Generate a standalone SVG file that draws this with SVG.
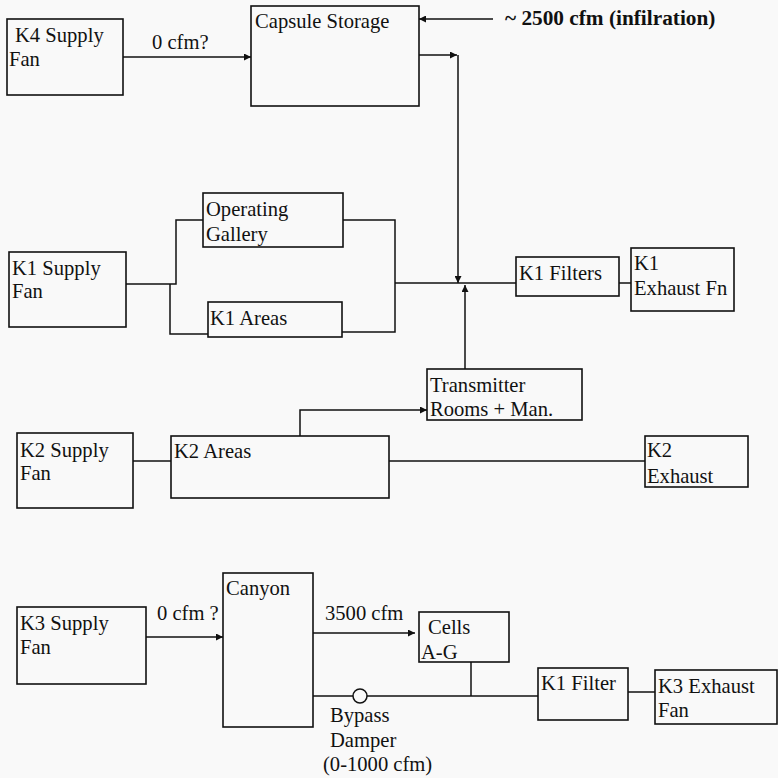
<svg xmlns="http://www.w3.org/2000/svg" width="778" height="778" viewBox="0 0 778 778">
<style>
.box{fill:none;stroke:#111;stroke-width:1.6}
.ln{fill:none;stroke:#111;stroke-width:1.5}
.t{font-family:"Liberation Serif","Times New Roman",serif;font-size:20.6px;fill:#111}
.b{font-weight:bold;font-size:21.3px}
</style>
<defs>
<marker id="ah" viewBox="0 0 10 10" refX="10" refY="5" markerWidth="8" markerHeight="7" markerUnits="userSpaceOnUse" orient="auto">
<path d="M0,0 L10,5 L0,10 z" fill="#111"/>
</marker>
</defs>
<rect width="778" height="778" fill="#f9f9f9"/>

<g id="k4fan"><rect class="box" x="7" y="19" width="116" height="76"/><text class="t" x="15" y="42">K4 Supply</text><text class="t" x="9" y="66">Fan</text></g>
<g id="capsule"><rect class="box" x="251" y="6" width="168" height="100"/><text class="t" x="255" y="28">Capsule Storage</text></g>
<g id="infil"><text class="t b" x="505" y="25">~ 2500 cfm (infilration)</text></g>
<g id="k1fan"><rect class="box" x="9" y="252" width="117" height="75"/><text class="t" x="12" y="275">K1 Supply</text><text class="t" x="12" y="298">Fan</text></g>
<g id="opgal"><rect class="box" x="203" y="193" width="140" height="54"/><text class="t" x="206" y="216">Operating</text><text class="t" x="206" y="241">Gallery</text></g>
<g id="k1areas"><rect class="box" x="208" y="302" width="134" height="35"/><text class="t" x="210" y="325">K1 Areas</text></g>
<g id="k1filters"><rect class="box" x="516" y="257" width="103" height="39"/><text class="t" x="519" y="280">K1 Filters</text></g>
<g id="k1exh"><rect class="box" x="631" y="248" width="103" height="63"/><text class="t" x="634" y="270">K1</text><text class="t" x="634" y="295">Exhaust Fn</text></g>
<g id="transmitter"><rect class="box" x="427" y="369" width="155" height="51"/><text class="t" x="430" y="392">Transmitter</text><text class="t" x="430" y="416">Rooms + Man.</text></g>
<g id="k2fan"><rect class="box" x="17" y="433" width="116" height="75"/><text class="t" x="20" y="457">K2 Supply</text><text class="t" x="20" y="480">Fan</text></g>
<g id="k2areas"><rect class="box" x="171" y="436" width="218" height="62"/><text class="t" x="174" y="458">K2 Areas</text></g>
<g id="k2exh"><rect class="box" x="645" y="436" width="103" height="51"/><text class="t" x="647" y="457">K2</text><text class="t" x="647" y="483">Exhaust</text></g>
<g id="k3fan"><rect class="box" x="17" y="607" width="129" height="77"/><text class="t" x="20" y="630">K3 Supply</text><text class="t" x="20" y="654">Fan</text></g>
<g id="canyon"><rect class="box" x="223" y="573" width="90" height="154"/><text class="t" x="226" y="595">Canyon</text></g>
<g id="cells"><rect class="box" x="419" y="612" width="90" height="50"/><text class="t" x="428" y="634">Cells</text><text class="t" x="421" y="659">A-G</text></g>
<g id="k1filter"><rect class="box" x="538" y="668" width="90" height="52"/><text class="t" x="541" y="690">K1 Filter</text></g>
<g id="k3exh"><rect class="box" x="655" y="670" width="122" height="54"/><text class="t" x="658" y="693">K3 Exhaust</text><text class="t" x="658" y="717">Fan</text></g>
<g id="damper"><circle cx="360" cy="696" r="7" fill="#f9f9f9" stroke="#111" stroke-width="1.5"/><text class="t" x="330" y="722">Bypass</text><text class="t" x="330" y="747">Damper</text><text class="t" x="323" y="771">(0-1000 cfm)</text></g>

<g id="connectors">
<line class="ln" x1="123" y1="57" x2="251" y2="57" marker-end="url(#ah)"/>
<text class="t" x="152" y="49">0 cfm?</text>
<line class="ln" x1="493" y1="19" x2="419" y2="19" marker-end="url(#ah)"/>
<line class="ln" x1="419" y1="55" x2="457" y2="55" marker-end="url(#ah)"/>
<line class="ln" x1="458" y1="55" x2="458" y2="283" marker-end="url(#ah)"/>
<polyline class="ln" points="126,284 176,284 176,220 203,220"/>
<polyline class="ln" points="170,284 170,334 208,334"/>
<polyline class="ln" points="343,220 395,220 395,332 342,332"/>
<line class="ln" x1="395" y1="283" x2="516" y2="283"/>
<line class="ln" x1="619" y1="283" x2="631" y2="283"/>
<line class="ln" x1="465" y1="369" x2="465" y2="285" marker-end="url(#ah)"/>
<polyline class="ln" points="300,436 300,410 427,410" marker-end="url(#ah)"/>
<line class="ln" x1="133" y1="461" x2="171" y2="461"/>
<line class="ln" x1="389" y1="461" x2="645" y2="461"/>
<line class="ln" x1="146" y1="637" x2="223" y2="637" marker-end="url(#ah)"/>
<text class="t" x="157" y="620">0 cfm ?</text>
<line class="ln" x1="313" y1="633" x2="415" y2="633" marker-end="url(#ah)"/>
<text class="t" x="325" y="620">3500 cfm</text>
<line class="ln" x1="313" y1="696" x2="353" y2="696"/>
<line class="ln" x1="367" y1="696" x2="538" y2="696"/>
<line class="ln" x1="471" y1="662" x2="471" y2="696"/>
<line class="ln" x1="628" y1="692" x2="655" y2="692"/>
</g>
</svg>
